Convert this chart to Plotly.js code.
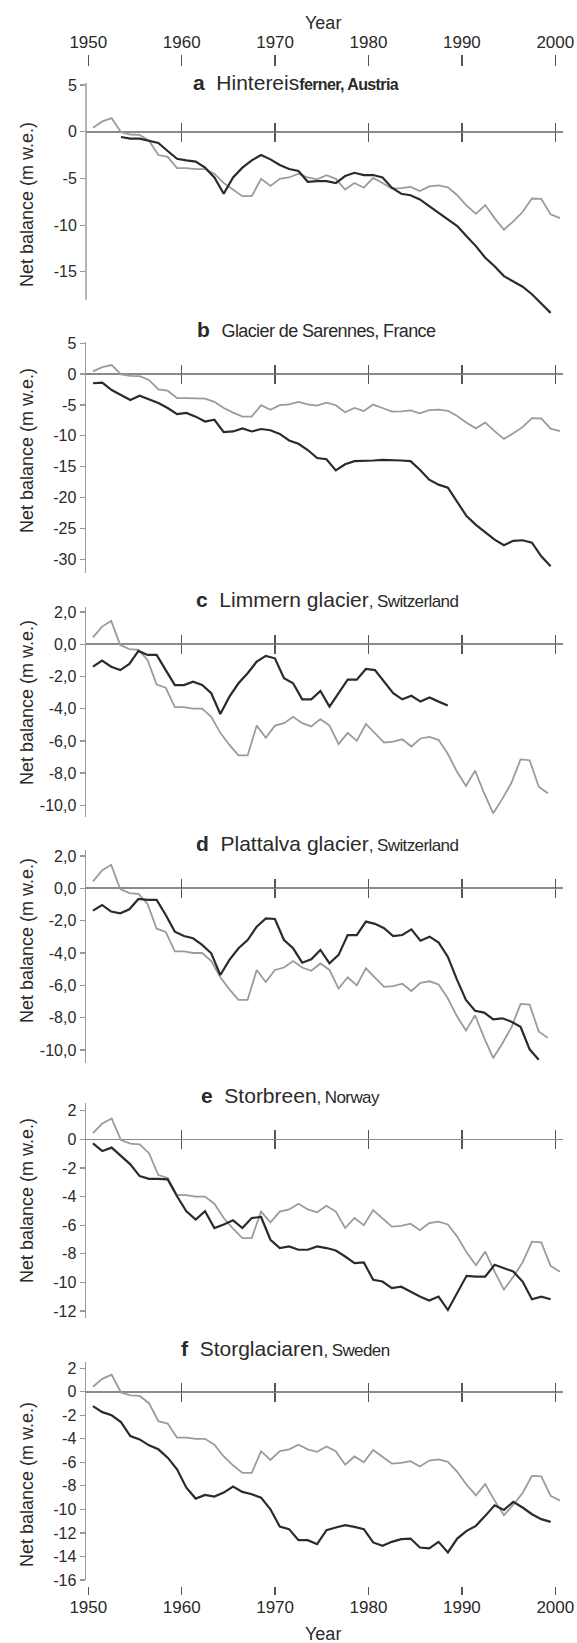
<!DOCTYPE html>
<html>
<head>
<meta charset="utf-8">
<script src="https://cdn.plot.ly/plotly-3.0.1.min.js"></script>
<style>
  html, body { margin: 0; padding: 0; background: #ffffff; }
  #chart { width: 577px; height: 1643px; }
</style>
</head>
<body>
<div id="chart"></div>
<script>
// ---------------- DATA ----------------
const years = [1950,1951,1952,1953,1954,1955,1956,1957,1958,1959,
               1960,1961,1962,1963,1964,1965,1966,1967,1968,1969,
               1970,1971,1972,1973,1974,1975,1976,1977,1978,1979,
               1980,1981,1982,1983,1984,1985,1986,1987,1988,1989,
               1990,1991,1992,1993,1994,1995,1996,1997,1998,1999,2000];

// grey reference curve (same in every panel), 1950-2000
const reference = [0.43,1.1,1.45,-0.05,-0.3,-0.35,-0.97,-2.5,-2.7,-3.9,
                   -3.9,-4.0,-4.0,-4.5,-5.5,-6.25,-6.9,-6.9,-5.05,-5.8,
                   -5.05,-4.9,-4.5,-4.9,-5.1,-4.65,-5.05,-6.2,-5.5,-6.0,
                   -4.95,-5.5,-6.1,-6.05,-5.9,-6.35,-5.85,-5.75,-5.95,-6.8,
                   -7.9,-8.8,-7.85,-9.25,-10.5,-9.6,-8.6,-7.15,-7.2,-8.85,-9.25];

// Hintereisferner, 1953-1999
const hintereisYears = years.slice(3, 50);
const hintereis = [-0.57,-0.75,-0.75,-1.0,-1.2,-2.07,-2.9,
                   -3.07,-3.2,-3.85,-4.9,-6.64,-4.9,-3.85,-3.07,-2.5,-2.96,
                   -3.57,-4.0,-4.2,-5.36,-5.3,-5.3,-5.5,-4.75,-4.4,-4.64,
                   -4.64,-4.9,-6.0,-6.64,-6.8,-7.25,-7.96,-8.68,-9.4,-10.1,
                   -11.2,-12.25,-13.5,-14.4,-15.46,-16.0,-16.6,-17.4,-18.4,-19.4];

// Glacier de Sarennes, 1950-1999
const sarennesYears = years.slice(0, 50);
const sarennes = [-1.5,-1.4,-2.6,-3.4,-4.2,-3.5,-4.1,-4.7,-5.5,-6.5,
                  -6.3,-6.9,-7.7,-7.4,-9.4,-9.3,-8.8,-9.3,-8.9,-9.1,
                  -9.7,-10.75,-11.3,-12.3,-13.6,-13.8,-15.6,-14.6,-14.1,-14.1,
                  -14.0,-13.9,-13.9,-14.0,-14.1,-15.5,-17.1,-17.9,-18.4,-20.6,
                  -23.0,-24.4,-25.6,-26.8,-27.7,-27.0,-26.9,-27.3,-29.5,-31.1];

// Limmern glacier, 1950-1989
const limmernYears = years.slice(0, 40);
const limmern = [-1.39,-1.01,-1.39,-1.6,-1.22,-0.41,-0.66,-0.66,-1.6,-2.53,
                 -2.53,-2.32,-2.53,-3.04,-4.33,-3.25,-2.42,-1.8,-1.08,-0.72,
                 -0.87,-2.11,-2.42,-3.42,-3.42,-2.9,-3.87,-3.04,-2.2,-2.2,
                 -1.53,-1.6,-2.32,-3.04,-3.42,-3.2,-3.56,-3.3,-3.56,-3.8];

// Plattalva glacier, 1950-1999
const plattalvaYears = years.slice(0, 50);
const plattalva = [-1.38,-1.03,-1.44,-1.55,-1.3,-0.66,-0.72,-0.72,-1.65,-2.68,
                   -2.95,-3.09,-3.5,-4.02,-5.36,-4.43,-3.71,-3.2,-2.37,-1.86,
                   -1.9,-3.2,-3.71,-4.6,-4.39,-3.81,-4.64,-4.12,-2.89,-2.89,
                   -2.06,-2.2,-2.47,-2.95,-2.89,-2.54,-3.24,-2.99,-3.36,-4.23,
                   -5.63,-6.9,-7.57,-7.69,-8.1,-8.04,-8.25,-8.56,-9.96,-10.6];

// Storbreen, 1950-1999
const storbreenYears = years.slice(0, 50);
const storbreen = [-0.28,-0.82,-0.58,-1.17,-1.75,-2.57,-2.76,-2.76,-2.8,-3.98,
                   -5.03,-5.61,-5.03,-6.2,-5.96,-5.66,-6.2,-5.5,-5.43,-7.02,
                   -7.6,-7.49,-7.72,-7.72,-7.49,-7.6,-7.77,-8.19,-8.65,-8.6,
                   -9.82,-9.94,-10.4,-10.3,-10.64,-10.99,-11.27,-10.99,-11.93,-10.76,
                   -9.54,-9.59,-9.59,-8.77,-9.0,-9.24,-9.94,-11.18,-10.99,-11.18];

// Storglaciaren, 1950-1999
const storglaciarenYears = years.slice(0, 50);
const storglaciaren = [-1.22,-1.73,-2.0,-2.57,-3.76,-4.05,-4.55,-4.89,-5.6,-6.59,
                       -8.15,-9.08,-8.77,-8.91,-8.57,-8.06,-8.51,-8.71,-9.0,-9.99,
                       -11.46,-11.68,-12.62,-12.62,-12.96,-11.77,-11.54,-11.34,-11.49,-11.68,
                       -12.81,-13.1,-12.76,-12.53,-12.48,-13.24,-13.32,-12.76,-13.66,-12.48,
                       -11.82,-11.4,-10.55,-9.65,-10.04,-9.36,-9.84,-10.41,-10.83,-11.06];

// tick values / labels
const yearTicks = [1950, 1960, 1970, 1980, 1990, 2000];
const yearTickLabels = ['1950', '1960', '1970', '1980', '1990', '2000'];
const crossTicks = [1960, 1970, 1980, 1990, 2000];
const ticksA = [5, 0, -5, -10, -15];
const labelsA = ['5', '0', '-5', '-10', '-15'];
const ticksB = [5, 0, -5, -10, -15, -20, -25, -30];
const labelsB = ['5', '0', '-5', '-10', '-15', '-20', '-25', '-30'];
const ticksCD = [2, 0, -2, -4, -6, -8, -10];
const labelsCD = ['2,0', '0,0', '-2,0', '-4,0', '-6,0', '-8,0', '-10,0'];
const ticksE = [2, 0, -2, -4, -6, -8, -10, -12];
const labelsE = ['2', '0', '-2', '-4', '-6', '-8', '-10', '-12'];
const ticksF = [2, 0, -2, -4, -6, -8, -10, -12, -14, -16];
const labelsF = ['2', '0', '-2', '-4', '-6', '-8', '-10', '-12', '-14', '-16'];

const yTitle = 'Net balance (m w.e.)';
const xTitle = 'Year';

// ---------------- LAYOUT HELPERS ----------------
const W = 577, H = 1643;
const FONT = "'Liberation Sans', Arial, sans-serif";
const NARROW = "'Liberation Sans Narrow', 'Liberation Sans', Arial, sans-serif";
const TEXT = '#2a2a2a';
const BLACK_LINE = '#2b2b2b';
const GREY_LINE = '#9b9b9b';
const AXIS_GREY = '#9a9a9a';
const TICK_GREY = '#555555';

const px = x => x / W;
const py = y => 1 - y / H;

const xLeft = 86, xRight = 563;
const x1950 = 88.3, pxPerYear = 9.34;
const vis = p => 1950 + (p - x1950) / pxPerYear;
const visRange = [vis(xLeft), vis(xRight)];
// values are drawn at mid-year
const midRange = visRange.map(v => v - 0.5);
// panels c and d were drawn slightly compressed along x in the source figure
const squeeze = 0.974;
const squeezedRange = visRange.map(v => 1950 + (v - 1950.5) / squeeze);

const narrow = (t, extra) =>
  `<span style="font-family:${NARROW};letter-spacing:-0.6px;${extra || ''}">${t}</span>`;
const sp = '&nbsp;&nbsp;';

const panels = [
  { id: '',  top: 83,     bottom: 315,    zero: 131.7,  ppu: 9.34,  axisBottom: -18,
    tickvals: ticksA, ticktext: labelsA, titleY: 82.5, titleX: 191, yTitleY: 205, xRangeKind: 'mid',
    title: `<b>a</b>${sp}Hintereis` + narrow('ferner, Austria', 'font-weight:bold;font-size:16px'),
    years: hintereisYears, values: hintereis },
  { id: '2', top: 341.7,  bottom: 573.3,  zero: 374,    ppu: 6.18,
    tickvals: ticksB, ticktext: labelsB, titleY: 330, titleX: 195, yTitleY: 451, xRangeKind: 'mid',
    title: `<b>b</b>${sp}` + narrow('Glacier de Sarennes, France', 'font-size:18px'),
    years: sarennesYears, values: sarennes },
  { id: '3', top: 606.7,  bottom: 816.7,  zero: 644.3,  ppu: 16.1,
    tickvals: ticksCD, ticktext: labelsCD, titleY: 599, titleX: 194, yTitleY: 703, xRangeKind: 'squeezed',
    title: `<b>c</b>${sp}Limmern glacier` + narrow(', Switzerland', 'font-size:17px'),
    years: limmernYears, values: limmern },
  { id: '4', top: 850,    bottom: 1063.3, zero: 888.3,  ppu: 16.17,
    tickvals: ticksCD, ticktext: labelsCD, titleY: 843, titleX: 194, yTitleY: 941, xRangeKind: 'squeezed',
    title: `<b>d</b>${sp}Plattalva glacier` + narrow(', Switzerland', 'font-size:17px'),
    years: plattalvaYears, values: plattalva },
  { id: '5', top: 1103.3, bottom: 1318.3, zero: 1139.3, ppu: 14.31,
    tickvals: ticksE, ticktext: labelsE, titleY: 1095, titleX: 199, yTitleY: 1201, xRangeKind: 'mid',
    title: `<b>e</b>${sp}Storbreen` + narrow(', Norway', 'font-size:17px'),
    years: storbreenYears, values: storbreen },
  { id: '6', top: 1361.7, bottom: 1580,   zero: 1391.8, ppu: 11.76,
    tickvals: ticksF, ticktext: labelsF, titleY: 1348, titleX: 179, yTitleY: 1485, xRangeKind: 'mid',
    title: `<b>f</b>${sp}Storglaciaren` + narrow(', Sweden', 'font-size:17px'),
    years: storglaciarenYears, values: storglaciaren }
];

const data = [];
const layout = {
  width: W, height: H, autosize: false,
  margin: { l: 0, r: 0, t: 0, b: 0, pad: 0 },
  paper_bgcolor: '#ffffff', plot_bgcolor: 'rgba(0,0,0,0)',
  showlegend: false,
  font: { family: FONT, color: TEXT, size: 16 },
  annotations: [], shapes: []
};

let extraAxis = 7;
// helper: an axis that only carries tick marks / labels, tied to a panel
function tickAxis(baseX, baseY, opts) {
  const id = 'x' + extraAxis;
  layout['xaxis' + extraAxis] = Object.assign({
    overlaying: baseX, anchor: 'free', range: visRange,
    showline: false, showgrid: false, zeroline: false, fixedrange: true, automargin: false,
    tickcolor: TICK_GREY, tickwidth: 1.5
  }, opts);
  // empty carrier trace so that the axis is created and drawn
  data.push({ x: [], y: [], xaxis: id, yaxis: baseY, type: 'scatter', mode: 'lines',
    hoverinfo: 'skip', showlegend: false });
  extraAxis++;
}

panels.forEach((p) => {
  const xa = 'x' + p.id, ya = 'y' + p.id;
  const xKey = 'xaxis' + p.id, yKey = 'yaxis' + p.id;
  const yBottom = (p.zero - p.bottom) / p.ppu;
  const yTop = (p.zero - p.top) / p.ppu;

  layout[xKey] = {
    domain: [px(xLeft), px(xRight)], anchor: ya, visible: false,
    range: p.xRangeKind === 'squeezed' ? squeezedRange : midRange, fixedrange: true
  };
  layout[yKey] = {
    domain: [py(p.bottom), py(p.top)], anchor: xa, range: [yBottom, yTop],
    tickvals: p.tickvals, ticktext: p.ticktext, ticks: 'outside', ticklen: 5, tickwidth: 1.2,
    tickcolor: AXIS_GREY, tickfont: { size: 16, color: TEXT, family: FONT },
    showline: p.axisBottom === undefined, linecolor: AXIS_GREY, linewidth: 1.5,
    zeroline: true, zerolinecolor: '#8a8a8a', zerolinewidth: 1.6,
    showgrid: false, fixedrange: true, automargin: false
  };
  if (p.axisBottom !== undefined) {
    layout.shapes.push({ type: 'line', xref: 'paper', yref: ya, x0: px(xLeft), x1: px(xLeft),
      y0: p.axisBottom, y1: yTop, line: { color: AXIS_GREY, width: 1.5 } });
  }

  // crossing tick marks on the zero line
  ['outside', 'inside'].forEach((dir) => {
    tickAxis(xa, ya, { position: py(p.zero), side: 'bottom', tickvals: crossTicks,
      ticks: dir, ticklen: 9, showticklabels: false });
  });

  data.push({ x: years, y: reference, xaxis: xa, yaxis: ya, type: 'scatter', mode: 'lines',
    line: { color: GREY_LINE, width: 1.8 }, hoverinfo: 'skip' });
  data.push({ x: p.years, y: p.values, xaxis: xa, yaxis: ya, type: 'scatter', mode: 'lines',
    line: { color: BLACK_LINE, width: 2.2 }, hoverinfo: 'skip' });

  layout.annotations.push({ xref: 'paper', yref: 'paper', x: px(p.titleX), y: py(p.titleY),
    xanchor: 'left', yanchor: 'middle', showarrow: false, text: p.title,
    font: { size: 21, color: TEXT, family: FONT } });
  layout.annotations.push({ xref: 'paper', yref: 'paper', x: px(27), y: py(p.yTitleY),
    xanchor: 'center', yanchor: 'middle', showarrow: false, textangle: -90, text: yTitle,
    font: { size: 18, color: TEXT, family: FONT } });
});

// year axes at the top and the bottom
tickAxis('x', 'y', { position: py(66), side: 'top', tickvals: yearTicks, ticktext: yearTickLabels,
  ticks: 'outside', ticklen: 11, showticklabels: true,
  tickfont: { size: 17, color: TEXT, family: FONT } });
tickAxis('x6', 'y6', { position: py(1595), side: 'bottom', tickvals: yearTicks, ticktext: yearTickLabels,
  ticks: 'inside', ticklen: 8, showticklabels: true,
  tickfont: { size: 17, color: TEXT, family: FONT } });

layout.annotations.push({ xref: 'paper', yref: 'paper', x: px(323), y: py(23),
  xanchor: 'center', yanchor: 'middle', showarrow: false, text: xTitle,
  font: { size: 18, color: TEXT, family: FONT } });
layout.annotations.push({ xref: 'paper', yref: 'paper', x: px(323), y: py(1634),
  xanchor: 'center', yanchor: 'middle', showarrow: false, text: xTitle,
  font: { size: 18, color: TEXT, family: FONT } });

Plotly.newPlot('chart', data, layout, { staticPlot: true, displayModeBar: false });
</script>
</body>
</html>
